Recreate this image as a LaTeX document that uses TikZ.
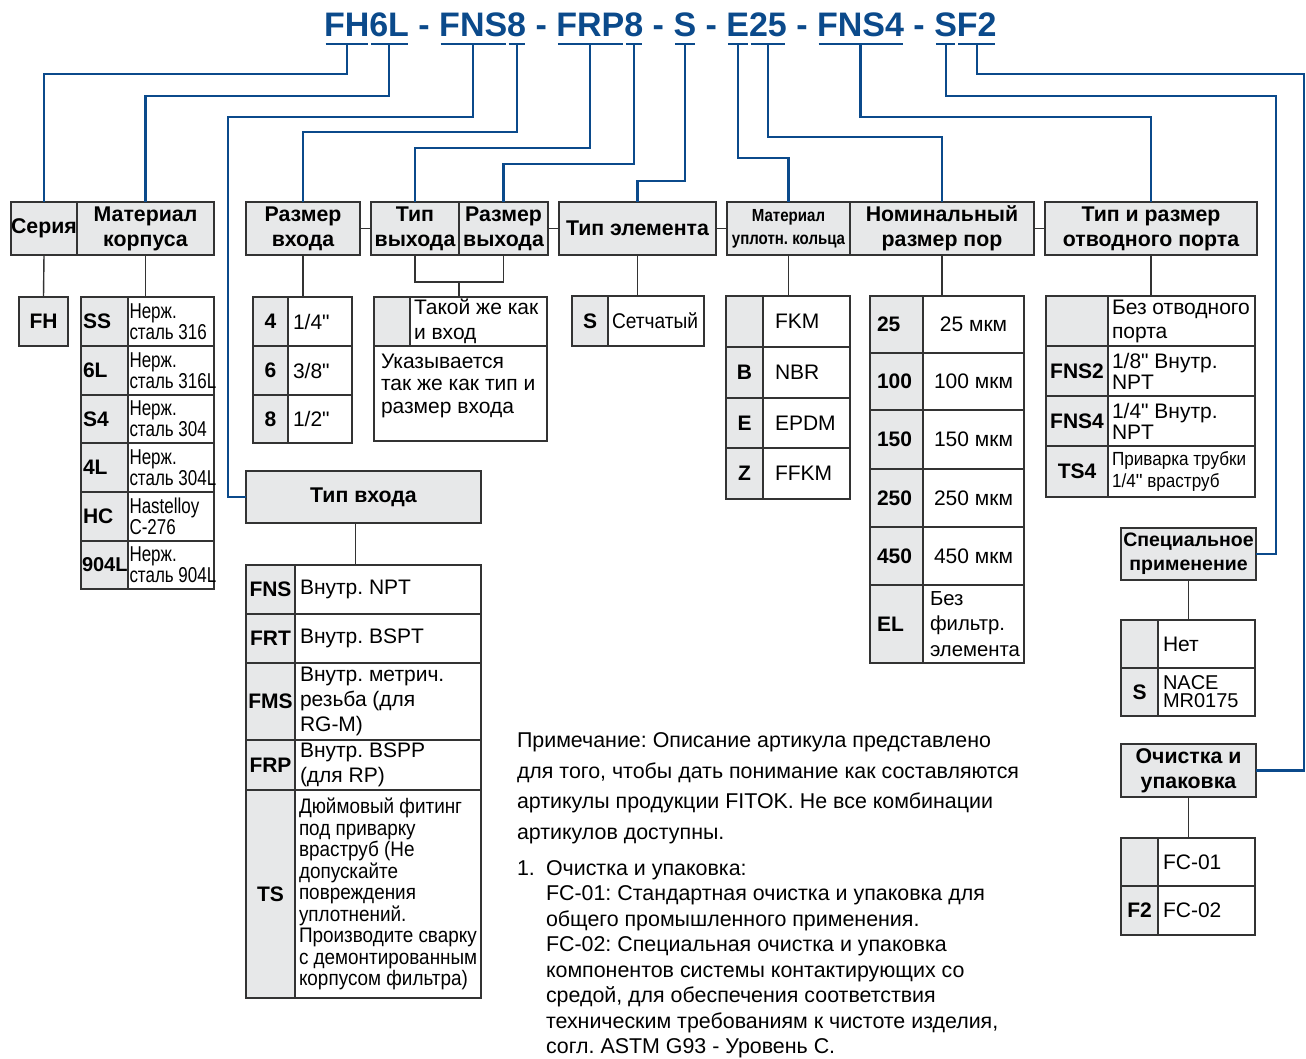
\documentclass[tikz,border=0pt]{standalone}
\usepackage{fontspec}
\setmainfont{Liberation Sans}
\newfontfamily\nar[FakeStretch=0.79]{Liberation Sans}
\newfontfamily\narw[FakeStretch=0.9]{Liberation Sans}
\newfontfamily\narb[FakeStretch=0.86]{Liberation Sans}
\newfontfamily\rawlib{Liberation Sans}
\newcommand{\inch}{{\rawlib"}}
\usetikzlibrary{calc}
\definecolor{fblue}{HTML}{0B4A8B}
\definecolor{gfill}{HTML}{E7E8E9}
\definecolor{gline}{HTML}{333333}
\newcommand{\fs}[2]{\fontsize{#1}{#2}\selectfont}
\tikzset{
 cellbase/.style={draw=gline, line width=1.4pt, inner sep=0pt, outer sep=0pt, anchor=north west},
 hdr/.style={cellbase, fill=gfill, align=center, font={\fs{21.3}{25}\bfseries}},
 codeC/.style={cellbase, fill=gfill, align=center, font={\fs{21}{24}\bfseries}},
 codeB/.style={cellbase, fill=gfill},
 valB/.style={cellbase, fill=white},
 valC/.style={cellbase, fill=white, align=center, font={\fs{21}{24}}},
 tx/.style={inner sep=0pt, outer sep=0pt, align=left, font={\fs{21}{24}}},
 txB/.style={tx, font={\fs{21}{24}\bfseries}},
 txN/.style={tx, font={\nar\fs{21.5}{21}}},
 ttl/.style={inner sep=0pt, outer sep=0pt, anchor=base west, text=fblue, font={\fs{34}{40}\bfseries}},
 tline/.style={draw=gline, line width=1.4pt},
 bline/.style={draw=fblue, line width=2.2pt},
}
% centred box: name x1 y1 x2 y2 style text
\newcommand{\ctxt}[7]{%
 \pgfmathsetmacro{\cellw}{#4-#2}\pgfmathsetmacro{\cellh}{#5-#3}%
 \node[#6, minimum width=\cellw pt, minimum height=\cellh pt] (#1) at (#2,#3) {#7};}
% box with left text: name x1 y1 x2 y2 boxstyle textstyle pad text
\newcommand{\ltxt}[9]{%
 \pgfmathsetmacro{\cellw}{#4-#2}\pgfmathsetmacro{\cellh}{#5-#3}%
 \node[#6, minimum width=\cellw pt, minimum height=\cellh pt] (#1) at (#2,#3) {};
 \node[#7, anchor=west] (#1t) at ([xshift=#8pt]#1.west) {#9};}
\newcommand{\dsh}{\kern0.278em-\kern0.278em}
\begin{document}
\frenchspacing
\begin{tikzpicture}[x=1pt,y=-1pt]
\useasboundingbox (0,0) rectangle (1306,1058);
% ---------- title ----------
\node[ttl] (tFH) at (324,36) {FH};
\node[ttl] (t6L) at (tFH.base east) {6L};
\node[ttl] (td1) at (t6L.base east) {\dsh};
\node[ttl] (tFNS) at (td1.base east) {FNS};
\node[ttl] (t8a) at (tFNS.base east) {8};
\node[ttl] (td2) at (t8a.base east) {\dsh};
\node[ttl] (tFRP) at (td2.base east) {FRP};
\node[ttl] (t8b) at (tFRP.base east) {8};
\node[ttl] (td3) at (t8b.base east) {\dsh};
\node[ttl] (tS) at (td3.base east) {S};
\node[ttl] (td4) at (tS.base east) {\dsh};
\node[ttl] (tE) at (td4.base east) {E};
\node[ttl] (t25) at (tE.base east) {25};
\node[ttl] (td5) at (t25.base east) {\dsh};
\node[ttl] (tFNSf) at (td5.base east) {FNS4};
\node[ttl] (td6) at (tFNSf.base east) {\dsh};
\node[ttl] (tSS) at (td6.base east) {S};
\node[ttl] (tF2) at (tSS.base east) {F2};
\coordinate (ul) at (0,44);
\coordinate (lv1) at (0,74);
\coordinate (lv2) at (0,96);
\coordinate (lv3) at (0,117);
\coordinate (lv4) at (0,132);
\coordinate (lv5) at (0,148);
\coordinate (lv6) at (0,164);
\coordinate (lv7) at (0,181);
\coordinate (lv8) at (0,158);
\coordinate (lv9) at (0,137);
\coordinate (xTV) at (228,0);
\coordinate (xR1) at (1276,0);
\coordinate (xR2) at (1304,0);
\coordinate (jn) at (0,282);
% ---------- header row ----------
\ctxt{hSer}{11}{202}{77}{255}{hdr}{Серия}
\ctxt{hMat}{77}{202}{214}{255}{hdr}{Материал\\корпуса}
\ctxt{hRV}{246}{202}{360}{255}{hdr}{Размер\\входа}
\ctxt{hTVy}{371}{202}{459}{255}{hdr}{Тип\\выхода}
\ctxt{hRVy}{459}{202}{548}{255}{hdr}{Размер\\выхода}
\ctxt{hTE}{559}{202}{716}{255}{hdr}{Тип элемента}
\ctxt{hMU}{727}{202}{850}{255}{hdr, font={\narb\fs{17.5}{23}\bfseries}}{Материал\\уплотн. кольца}
\ctxt{hNom}{850}{202}{1034}{255}{hdr}{Номинальный\\размер пор}
\ctxt{hOtv}{1045}{202}{1257}{255}{hdr}{Тип и размер\\отводного порта}
% ---------- series ----------
\ctxt{cFH}{19}{297}{68}{346}{codeC}{FH}
% ---------- body material ----------
\ltxt{mSSc}{81}{297}{128}{346}{codeB}{txB}{2}{SS}
\ltxt{mSSv}{128}{297}{214}{346}{valB}{txN}{1.5}{Нерж.\\сталь 316}
\ltxt{m6Lc}{81}{346}{128}{395}{codeB}{txB}{2}{6L}
\ltxt{m6Lv}{128}{346}{214}{395}{valB}{txN}{1.5}{Нерж.\\сталь 316L}
\ltxt{mS4c}{81}{395}{128}{443}{codeB}{txB}{2}{S4}
\ltxt{mS4v}{128}{395}{214}{443}{valB}{txN}{1.5}{Нерж.\\сталь 304}
\ltxt{m4Lc}{81}{443}{128}{492}{codeB}{txB}{2}{4L}
\ltxt{m4Lv}{128}{443}{214}{492}{valB}{txN}{1.5}{Нерж.\\сталь 304L}
\ltxt{mHCc}{81}{492}{128}{541}{codeB}{txB}{2}{HC}
\ltxt{mHCv}{128}{492}{214}{541}{valB}{txN}{1.5}{Hastelloy\\C-276}
\ltxt{m9c}{81}{541}{128}{589}{codeB}{txB,font={\fs{20}{24}\bfseries}}{1}{904L}
\ltxt{m9v}{128}{541}{214}{589}{valB}{txN}{1.5}{Нерж.\\сталь 904L}
% ---------- inlet size ----------
\ctxt{r4c}{253}{297}{288}{346}{codeC}{4}
\ltxt{r4v}{288}{297}{352}{346}{valB}{tx}{5}{1/4\inch}
\ctxt{r6c}{253}{346}{288}{395}{codeC}{6}
\ltxt{r6v}{288}{346}{352}{395}{valB}{tx}{5}{3/8\inch}
\ctxt{r8c}{253}{395}{288}{443}{codeC}{8}
\ltxt{r8v}{288}{395}{352}{443}{valB}{tx}{5}{1/2\inch}
% ---------- outlet ----------
\ctxt{oSc}{374}{297}{410}{346}{codeC}{}
\ltxt{oSv}{410}{297}{547}{346}{valB}{tx,font={\fs{21}{25}}}{4}{Такой же как\\и вход}
\ltxt{oUv}{374}{346}{547}{441}{valB}{tx,font={\fs{21}{22.5}},yshift=8pt}{7}{Указывается\\так же как тип и\\размер входа}
% ---------- inlet type ----------
\ctxt{hTV}{246}{471}{481}{523}{hdr}{Тип входа}
\ctxt{iFNSc}{246}{565}{295}{614}{codeC}{FNS}
\ltxt{iFNSv}{295}{565}{481}{614}{valB}{tx}{5}{Внутр. NPT}
\ctxt{iFRTc}{246}{614}{295}{663}{codeC}{FRT}
\ltxt{iFRTv}{295}{614}{481}{663}{valB}{tx}{5}{Внутр. BSPT}
\ctxt{iFMSc}{246}{663}{295}{740}{codeC}{FMS}
\ltxt{iFMSv}{295}{663}{481}{740}{valB}{tx,font={\fs{21}{25}}}{5}{Внутр. метрич.\\резьба (для\\RG-M)}
\ctxt{iFRPc}{246}{740}{295}{790}{codeC}{FRP}
\ltxt{iFRPv}{295}{740}{481}{790}{valB}{tx,font={\fs{21}{25}}}{5}{Внутр. BSPP\\(для RP)}
\ctxt{iTSc}{246}{790}{295}{998}{codeC}{TS}
\ltxt{iTSv}{295}{790}{481}{998}{valB}{tx,font={\narw\fs{21}{21.5}}}{4}{Дюймовый фитинг\\под приварку\\враструб (Не\\допускайте\\повреждения\\уплотнений.\\Производите сварку\\с демонтированным\\корпусом фильтра)}
% ---------- element type ----------
\ctxt{eSc}{572}{296}{608}{346}{codeC}{S}
\ltxt{eSv}{608}{296}{704}{346}{valB}{tx,font={\narw\fs{21.3}{24}}}{4}{Сетчатый}
% ---------- seal material ----------
\ctxt{u1c}{726}{296}{763}{347}{codeC}{}
\ltxt{u1v}{763}{296}{850}{347}{valB}{tx}{12}{FKM}
\ctxt{u2c}{726}{347}{763}{398}{codeC}{B}
\ltxt{u2v}{763}{347}{850}{398}{valB}{tx}{12}{NBR}
\ctxt{u3c}{726}{398}{763}{448}{codeC}{E}
\ltxt{u3v}{763}{398}{850}{448}{valB}{tx}{12}{EPDM}
\ctxt{u4c}{726}{448}{763}{499}{codeC}{Z}
\ltxt{u4v}{763}{448}{850}{499}{valB}{tx}{12}{FFKM}
% ---------- pore size ----------
\ltxt{n25c}{870}{296}{923}{353}{codeB}{txB}{7}{25}
\ctxt{n25v}{923}{296}{1024}{353}{valC}{25 мкм}
\ltxt{n100c}{870}{353}{923}{410}{codeB}{txB}{7}{100}
\ctxt{n100v}{923}{353}{1024}{410}{valC}{100 мкм}
\ltxt{n150c}{870}{410}{923}{469}{codeB}{txB}{7}{150}
\ctxt{n150v}{923}{410}{1024}{469}{valC}{150 мкм}
\ltxt{n250c}{870}{469}{923}{527}{codeB}{txB}{7}{250}
\ctxt{n250v}{923}{469}{1024}{527}{valC}{250 мкм}
\ltxt{n450c}{870}{527}{923}{585}{codeB}{txB}{7}{450}
\ctxt{n450v}{923}{527}{1024}{585}{valC}{450 мкм}
\ltxt{nELc}{870}{585}{923}{663}{codeB}{txB}{7}{EL}
\ltxt{nELv}{923}{585}{1024}{663}{valB}{tx,font={\fs{20.3}{25.5}}}{7}{Без\\фильтр.\\элемента}
% ---------- vent port ----------
\ctxt{o1c}{1046}{296}{1108}{346}{codeC}{}
\ltxt{o1v}{1108}{296}{1255}{346}{valB}{tx,font={\fs{21}{24}}}{4}{Без отводного\\порта}
\ctxt{o2c}{1046}{346}{1108}{396}{codeC}{FNS2}
\ltxt{o2v}{1108}{346}{1255}{396}{valB}{tx,font={\fs{21}{21}}}{4}{1/8\inch{} Внутр.\\NPT}
\ctxt{o3c}{1046}{396}{1108}{446}{codeC}{FNS4}
\ltxt{o3v}{1108}{396}{1255}{446}{valB}{tx,font={\fs{21}{21}}}{4}{1/4\inch{} Внутр.\\NPT}
\ctxt{o4c}{1046}{446}{1108}{497}{codeC}{TS4}
\ltxt{o4v}{1108}{446}{1255}{497}{valB}{tx,font={\narw\fs{19}{22}}}{4}{Приварка трубки\\1/4\inch{} враструб}
% ---------- special application ----------
\ctxt{hSpec}{1121}{528}{1256}{580}{hdr, font={\fs{19.5}{24}\bfseries}}{Специальное\\применение}
\ctxt{s1c}{1121}{620}{1158}{668}{codeC}{}
\ltxt{s1v}{1158}{620}{1255}{668}{valB}{tx}{5}{Нет}
\ctxt{s2c}{1121}{668}{1158}{716}{codeC}{S}
\ltxt{s2v}{1158}{668}{1255}{716}{valB}{tx,font={\fs{20}{18}}}{5}{NACE\\MR0175}
% ---------- cleaning ----------
\ctxt{hOch}{1121}{744}{1256}{797}{hdr}{Очистка и\\упаковка}
\ctxt{f1c}{1121}{838}{1158}{886}{codeC}{}
\ltxt{f1v}{1158}{838}{1255}{886}{valB}{tx}{5}{FC-01}
\ctxt{f2c}{1121}{886}{1158}{935}{codeC}{F2}
\ltxt{f2v}{1158}{886}{1255}{935}{valB}{tx}{5}{FC-02}
% ---------- note ----------
\node[tx, anchor=north west, font={\fs{21.4}{30.5}}] (note) at (517,726.6) {\strut Примечание: Описание артикула представлено\\для того, чтобы дать понимание как составляются\\артикулы продукции FITOK. Не все комбинации\\артикулов доступны.};
\node[tx, anchor=base west, font={\fs{21.4}{25.5}}] (num1) at (517,875) {1.};
\node[tx, anchor=north west, font={\fs{21.4}{25.5}}] (list) at (546,857.15) {\strut Очистка и упаковка:\\FC-01: Стандартная очистка и упаковка для\\общего промышленного применения.\\FC-02: Специальная очистка и упаковка\\компонентов системы контактирующих со\\средой, для обеспечения соответствия\\техническим требованиям к чистоте изделия,\\согл. ASTM G93 - Уровень C.};
% ---------- gray connectors ----------
\draw[tline] (hSer.south) -- (cFH.north);
\draw[tline] (hMat.south) -- (hMat.south |- mSSv.north);
\draw[tline] (hRV.south) -- (hRV.south |- r4c.north);
\draw[tline] (hTVy.south) -- (hTVy.south |- jn) -| (hRVy.south);
\draw[tline] (hTVy.south east |- jn) -- (hTVy.south east |- oSv.north);
\draw[tline] (hRV.east) -- (hTVy.west);
\draw[tline] (hRVy.east) -- (hTE.west);
\draw[tline] (hTE.east) -- (hMU.west);
\draw[tline] (hNom.east) -- (hOtv.west);
\draw[tline] ([xshift=-8pt]hTV.south) -- ([xshift=-8pt]hTV.south |- iFNSv.north);
\draw[tline] (hTE.south) -- (hTE.south |- eSv.north);
\draw[tline] (hMU.south) -- (hMU.south |- u1v.north);
\draw[tline] (hNom.south) -- (hNom.south |- n25v.north);
\draw[tline] (hOtv.south) -- (hOtv.south |- o1v.north);
\draw[tline] (hSpec.south) -- (hSpec.south |- s1v.north);
\draw[tline] (hOch.south) -- (hOch.south |- f1v.north);
% ---------- blue connectors ----------
\foreach \n in {tFH,t6L,tFNS,t8a,tFRP,t8b,tS,tE,t25,tFNSf,tSS,tF2}
  \draw[bline] ([xshift=1.5pt]\n.west |- ul) -- ([xshift=-1.5pt]\n.east |- ul);
\draw[bline] (tFH.south |- ul) |- (hSer.north |- lv1) -- (hSer.north);
\draw[bline] (t6L.south |- ul) |- (hMat.north |- lv2) -- (hMat.north);
\draw[bline] (tFNS.south |- ul) |- (xTV |- lv3) -- (xTV |- hTV.west) -- (hTV.west);
\draw[bline] (t8a.south |- ul) |- (hRV.north |- lv4) -- (hRV.north);
\draw[bline] (tFRP.south |- ul) |- (hTVy.north |- lv5) -- (hTVy.north);
\draw[bline] (t8b.south |- ul) |- (hRVy.north |- lv6) -- (hRVy.north);
\draw[bline] (tS.south |- ul) |- (hTE.north |- lv7) -- (hTE.north);
\draw[bline] (tE.south |- ul) |- (hMU.north |- lv8) -- (hMU.north);
\draw[bline] (t25.south |- ul) |- (hNom.north |- lv9) -- (hNom.north);
\draw[bline] (tFNSf.south |- ul) |- (hOtv.north |- lv3) -- (hOtv.north);
\draw[bline] (tSS.south |- ul) |- (xR1 |- lv2) -- (xR1 |- hSpec.east) -- (hSpec.east);
\draw[bline] (tF2.south |- ul) |- (xR2 |- lv1) -- (xR2 |- hOch.east) -- (hOch.east);
\end{tikzpicture}
\end{document}
